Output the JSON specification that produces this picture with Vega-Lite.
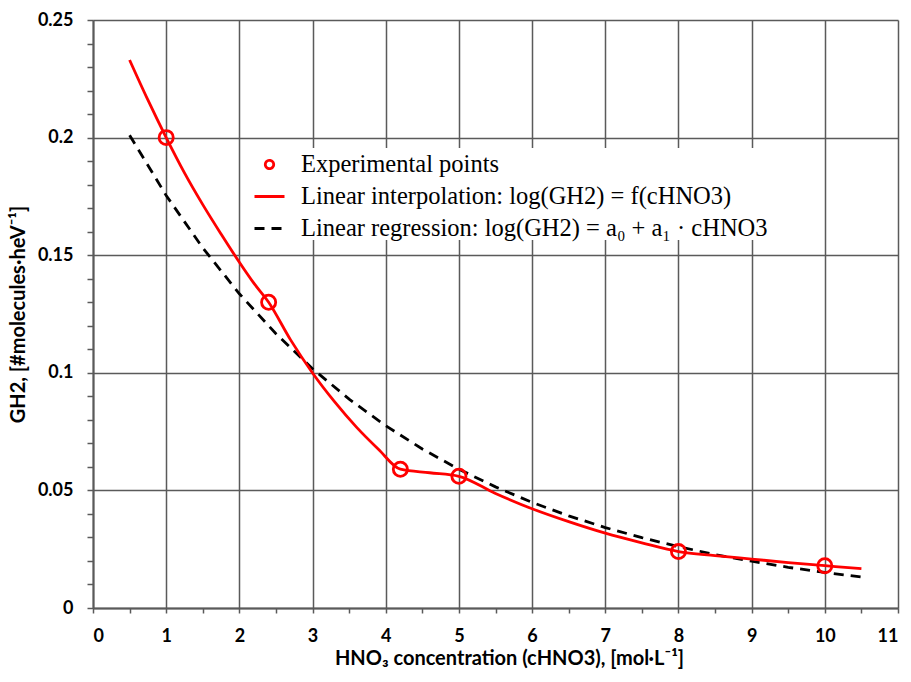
{
  "$schema": "https://vega.github.io/schema/vega-lite/v6.json",
  "width": 805,
  "height": 588,
  "autosize": {"type": "none"},
  "padding": {"left": 93, "top": 20, "right": 13, "bottom": 74},
  "background": "white",
  "config": {"view": {"stroke": null}},
  "datasets": {
    "pts": [
      {"c": 1, "g": 0.2, "series": "Experimental points"},
      {"c": 2.4, "g": 0.13, "series": "Experimental points"},
      {"c": 4.2, "g": 0.059, "series": "Experimental points"},
      {"c": 5, "g": 0.056, "series": "Experimental points"},
      {"c": 8, "g": 0.024, "series": "Experimental points"},
      {"c": 10, "g": 0.018, "series": "Experimental points"}
    ],
    "interp": [
      {"c": 0.5, "g": 0.233}, {"c": 0.75, "g": 0.216}, {"c": 1, "g": 0.2},
      {"c": 1.25, "g": 0.185}, {"c": 1.5, "g": 0.1715}, {"c": 1.75, "g": 0.159},
      {"c": 2, "g": 0.147}, {"c": 2.2, "g": 0.138}, {"c": 2.4, "g": 0.13},
      {"c": 2.7, "g": 0.114}, {"c": 3, "g": 0.0999}, {"c": 3.3, "g": 0.0877},
      {"c": 3.6, "g": 0.0769}, {"c": 3.9, "g": 0.0675}, {"c": 4.2, "g": 0.059},
      {"c": 4.6, "g": 0.0575}, {"c": 5, "g": 0.056}, {"c": 5.5, "g": 0.0487},
      {"c": 6, "g": 0.0422}, {"c": 6.5, "g": 0.0367}, {"c": 7, "g": 0.0318},
      {"c": 7.5, "g": 0.0277}, {"c": 8, "g": 0.024}, {"c": 8.5, "g": 0.0223},
      {"c": 9, "g": 0.0208}, {"c": 9.5, "g": 0.0193}, {"c": 10, "g": 0.018},
      {"c": 10.5, "g": 0.0167}
    ],
    "regr": [
      {"c": 0.5, "g": 0.201}, {"c": 1, "g": 0.1754}, {"c": 1.5, "g": 0.1531},
      {"c": 2, "g": 0.1336}, {"c": 2.5, "g": 0.1166}, {"c": 3, "g": 0.1017},
      {"c": 3.5, "g": 0.0888}, {"c": 4, "g": 0.0775}, {"c": 4.5, "g": 0.0676},
      {"c": 5, "g": 0.059}, {"c": 5.5, "g": 0.0515}, {"c": 6, "g": 0.0449},
      {"c": 6.5, "g": 0.0392}, {"c": 7, "g": 0.0342}, {"c": 7.5, "g": 0.0299},
      {"c": 8, "g": 0.0261}, {"c": 8.5, "g": 0.0227}, {"c": 9, "g": 0.0199},
      {"c": 9.5, "g": 0.0173}, {"c": 10, "g": 0.0151}, {"c": 10.5, "g": 0.0132}
    ]
  },
  "encoding": {
    "x": {
      "field": "c", "type": "quantitative",
      "scale": {"domain": [0, 11], "nice": false, "zero": false},
      "axis": {
        "title": "HNO₃ concentration (cHNO3), [mol·L⁻¹]",
        "titleX": 416,
        "values": [0,0.5,1,1.5,2,2.5,3,3.5,4,4.5,5,5.5,6,6.5,7,7.5,8,8.5,9,9.5,10,10.5,11],
        "labelExpr": "datum.value % 1 === 0 ? format(datum.value, 'd') : ''",
        "grid": true,
        "gridColor": "#5a5a5a",
        "gridWidth": 1.5,
        "gridOpacity": {"condition": {"test": "datum.value % 1 !== 0", "value": 0}, "value": 1},
        "domainColor": "#5a5a5a",
        "domainWidth": 2,
        "tickColor": "#5a5a5a",
        "tickWidth": 1.5,
        "tickSize": 5,
        "labelFont": "Lato",
        "labelFontWeight": "bold",
        "labelFontSize": 18,
        "labelColor": "#000",
        "labelPadding": 14,
        "titleFont": "Lato",
        "titleFontWeight": "bold",
        "titleFontSize": 20,
        "titleColor": "#000",
        "titlePadding": 3
      }
    },
    "y": {
      "field": "g", "type": "quantitative",
      "scale": {"domain": [0, 0.25], "nice": false},
      "axis": {
        "title": "GH2, [#molecules·heV⁻¹]",
        "values": [0,0.01,0.02,0.03,0.04,0.05,0.06,0.07,0.08,0.09,0.1,0.11,0.12,0.13,0.14,0.15,0.16,0.17,0.18,0.19,0.2,0.21,0.22,0.23,0.24,0.25],
        "labelExpr": "round(datum.value*100) % 5 === 0 ? format(datum.value, '~g') : ''",
        "grid": true,
        "gridColor": "#5a5a5a",
        "gridWidth": 1.5,
        "gridOpacity": {"condition": {"test": "round(datum.value*100) % 5 !== 0", "value": 0}, "value": 1},
        "domainColor": "#5a5a5a",
        "domainWidth": 2,
        "tickColor": "#5a5a5a",
        "tickWidth": 1.5,
        "tickSize": 6,
        "labelFont": "Lato",
        "labelFontWeight": "bold",
        "labelFontSize": 18,
        "labelColor": "#000",
        "labelPadding": 14,
        "titleFont": "Lato",
        "titleFontWeight": "bold",
        "titleFontSize": 20,
        "titleColor": "#000",
        "titlePadding": 9
      }
    },
    "color": {
      "field": "series", "type": "nominal",
      "scale": {
        "domain": ["Experimental points", "Linear interpolation: log(GH2) = f(cHNO3)", "Linear regression: log(GH2) = a₀ + a₁ · cHNO3"],
        "range": ["#ff0000", "#ff0000", "#000000"]
      },
      "legend": {
        "orient": "none",
        "legendX": 160,
        "legendY": 128,
        "title": null,
        "labelFont": "Liberation Serif",
        "labelFontSize": 24.5,
        "labelColor": "#000",
        "labelLimit": 0,
        "labelOffset": 15,
        "rowPadding": 4,
        "symbolType": "stroke",
        "symbolSize": 576,
        "symbolStrokeWidth": 2.5,
        "fillColor": "white",
        "encode": {
          "symbols": {
            "update": {
              "shape": {"signal": "datum.index === 0 ? 'circle' : 'stroke'"},
              "size": {"signal": "datum.index === 0 ? 70 : 900"},
              "strokeDash": {"signal": "datum.index === 2 ? [10, 7] : [1, 0]"},
              "fill": {"value": "transparent"},
              "strokeWidth": {"value": 2.8}
            }
          }
        }
      }
    }
  },
  "layer": [
    {
      "data": {"name": "regr"},
      "transform": [{"calculate": "'Linear regression: log(GH2) = a₀ + a₁ · cHNO3'", "as": "series"}],
      "mark": {"type": "line", "strokeDash": [10, 7], "strokeWidth": 2.8}
    },
    {
      "data": {"name": "interp"},
      "transform": [{"calculate": "'Linear interpolation: log(GH2) = f(cHNO3)'", "as": "series"}],
      "mark": {"type": "line", "strokeWidth": 2.8, "interpolate": "monotone"}
    },
    {
      "data": {"name": "pts"},
      "mark": {"type": "point", "shape": "circle", "filled": false, "size": 200, "strokeWidth": 2.8, "opacity": 1}
    }
  ]
}
